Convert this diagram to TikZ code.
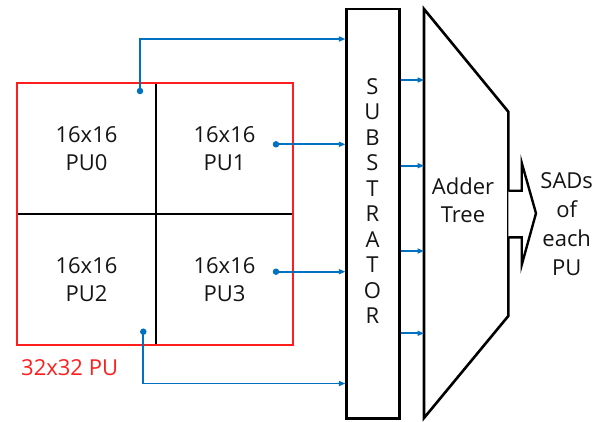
\documentclass[tikz,border=0pt]{standalone}
\usepackage{fontspec}
\setmainfont{Open Sans}
\usetikzlibrary{arrows.meta}
\definecolor{linkblue}{RGB}{0,112,192}
\definecolor{pured}{RGB}{255,30,30}
\tikzset{
  lbl/.style={font={\fontsize{22}{28}\selectfont}, text=black!92, align=center, inner sep=0pt},
  cellline/.style={draw=black, line width=2pt},
  frame/.style={draw=pured, line width=2pt},
  blk/.style={draw=black, line width=2.6pt, line join=miter},
  wire/.style={draw=linkblue, line width=1.7pt},
  feed/.style={wire, -{Triangle[length=6.5pt,width=5pt]}},
  dot/.style={circle, fill=linkblue, inner sep=0pt, minimum size=6.5pt},
}
\begin{document}
\begin{tikzpicture}[x=1pt, y=-1pt]
\useasboundingbox (0,0) rectangle (603,421);

% 32x32 block split into four 16x16 PUs
\draw[cellline] (156,83) -- (156,345);
\draw[cellline] (17,214) -- (293,214);
\draw[frame] (17,83) rectangle (293,345);
\node[lbl] (pu0) at (86.5,149) {16x16\\PU0};
\node[lbl] (pu1) at (224.5,149) {16x16\\PU1};
\node[lbl] (pu2) at (86.5,280) {16x16\\PU2};
\node[lbl] (pu3) at (224.5,280) {16x16\\PU3};
\node[lbl, text=pured, anchor=base west] (big) at (21,375) {32x32 PU};

% substrator
\node[blk, fill=white, minimum width=52.6pt, minimum height=409.3pt, inner sep=0pt] (sub) at (373,213.7) {};
\node[font={\fontsize{22}{25.5}\selectfont}, text=black!92, align=center, inner sep=0pt] (subtxt) at (372.5,201)
  {S\\U\\B\\S\\T\\R\\A\\T\\O\\R};

% adder tree
\coordinate (at1) at (424,9);
\coordinate (at2) at (508.3,111.7);
\coordinate (at3) at (508.3,316);
\coordinate (at4) at (424,418);
\draw[blk] (at1) -- (at2) -- (at3) -- (at4) -- cycle;
\node[lbl] (adder) at (463,200) {Adder\\Tree};

% output arrow
\draw[line width=2.4pt, fill=white, line join=miter]
  (at2 |- 0,190.7) -- (521.7,190.7) -- (521.7,162.7) -- (536,213.3) -- (521.7,265)
  -- (521.7,237.3) -- (at2 |- 0,237.3);
\node[font={\fontsize{22}{29}\selectfont}, text=black!92, align=center, inner sep=0pt] (sads) at (566.7,224)
  {SADs\\of\\each\\PU};

% taps from the PUs into the substrator
\node[dot] (d0) at (140,91) {};
\node[dot] (d1) at (276,144.3) {};
\node[dot] (d3) at (276,271.7) {};
\node[dot] (d2) at (143.3,331.7) {};
\draw[feed] (d0.center) -- (140,39) -- (sub.west |- 0,39);
\draw[feed] (d1.center) -- (sub.west |- d1);
\draw[feed] (d3.center) -- (sub.west |- d3);
\draw[feed] (d2.center) -- (143.3,383.5) -- (sub.west |- 0,383.5);

% substrator outputs into the adder tree
\foreach \yy in {80,165.7,251,333.3}
  \draw[feed] (sub.east |- 0,\yy) -- (at1 |- 0,\yy);
\end{tikzpicture}
\end{document}
